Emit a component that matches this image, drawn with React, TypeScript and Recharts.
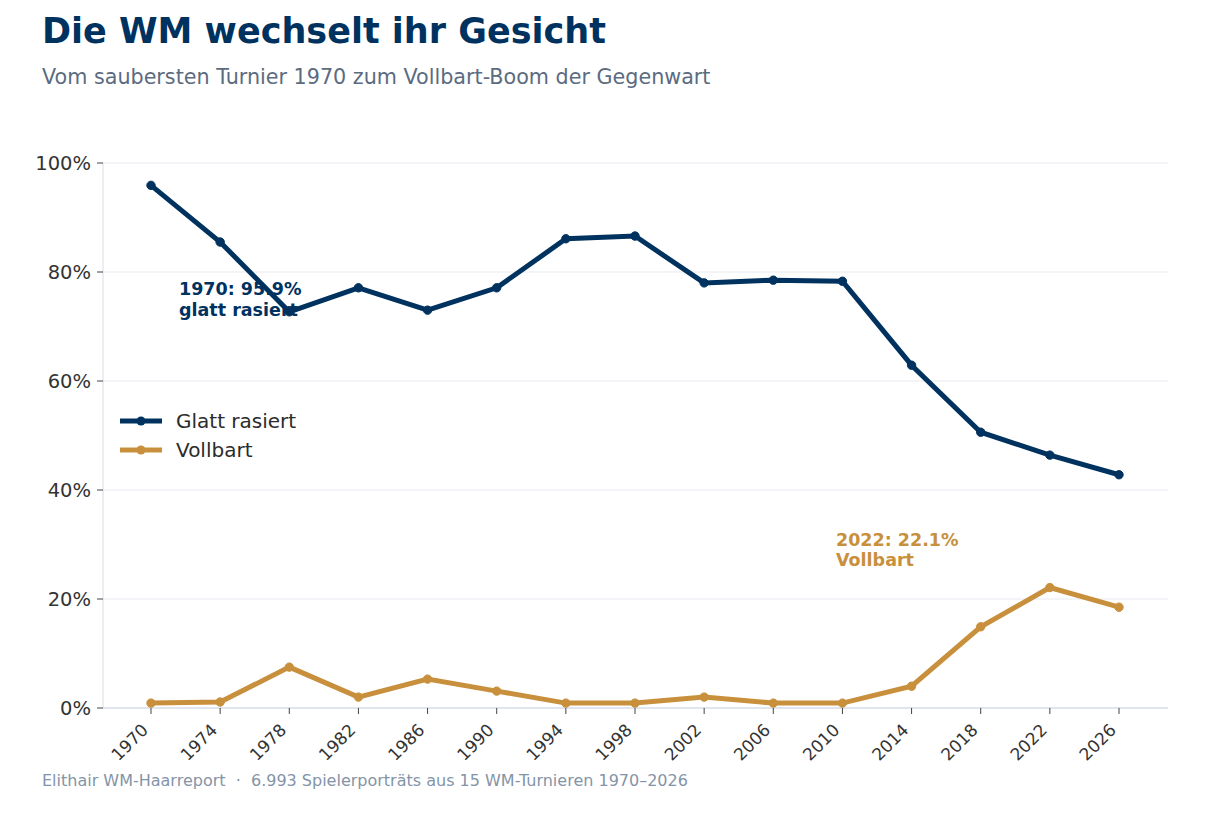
import React from 'react'
import { LineChart, Line, XAxis, YAxis, CartesianGrid } from 'recharts'

const years = ['1970', '1974', '1978', '1982', '1986', '1990', '1994', '1998', '2002', '2006', '2010', '2014', '2018', '2022', '2026']
const glattRasiert = [95.9, 85.5, 72.7, 77.1, 73.0, 77.1, 86.1, 86.6, 78.0, 78.5, 78.3, 62.9, 50.6, 46.4, 42.8]
const vollbart = [0.9, 1.1, 7.5, 2.0, 5.3, 3.1, 0.9, 0.9, 2.0, 0.9, 0.9, 4.0, 14.9, 22.1, 18.5]
const yTicks = [0, 20, 40, 60, 80, 100]

const NAVY = '#00325f'
const GOLD = '#c8903c'
const FONT = '"DejaVu Sans", sans-serif'

const data = years.map((year, i) => ({ year, glatt: glattRasiert[i], voll: vollbart[i] }))

const legendItems = [
  { label: 'Glatt rasiert', color: NAVY },
  { label: 'Vollbart', color: GOLD },
]

// rotated year labels, end of text sits just below the tick
function YearTick({ x, y, payload }: any) {
  const tx = x - 6
  const ty = y + 13
  return (
    <text
      x={tx}
      y={ty}
      dy="0.35em"
      textAnchor="end"
      transform={`rotate(-45, ${tx}, ${ty})`}
      fill="#333"
      fontSize={17}
      fontFamily={FONT}
    >
      {payload.value}
    </text>
  )
}

function ChartLegend() {
  return (
    <div style={{ position: 'absolute', left: 119, top: 406, fontFamily: FONT }}>
      {legendItems.map((item) => (
        <div key={item.label} style={{ display: 'flex', alignItems: 'center', height: 29 }}>
          <svg width={44} height={12} style={{ marginRight: 13 }}>
            <line x1={1} y1={6} x2={43} y2={6} stroke={item.color} strokeWidth={5} />
            <circle cx={22} cy={6} r={4.5} fill={item.color} />
          </svg>
          <span style={{ fontSize: 20, color: '#2b2b2b' }}>{item.label}</span>
        </div>
      ))}
    </div>
  )
}

export default function App() {
  return (
    <div style={{ position: 'absolute', left: 0, top: 0, width: 1210, height: 814, background: '#fff', fontFamily: FONT }}>
      <LineChart
        width={1210}
        height={814}
        data={data}
        margin={{ top: 163, right: 42, bottom: 46, left: 0 }}
      >
        <CartesianGrid vertical={false} stroke="#eef1f5" strokeWidth={1.5} />
        <XAxis
          dataKey="year"
          height={60}
          padding={{ left: 48, right: 49 }}
          interval={0}
          stroke="#cdd5e5"
          tickLine={{ stroke: '#444' }}
          tickSize={6}
          tickMargin={0}
          tick={<YearTick />}
        />
        <YAxis
          width={103}
          domain={[0, 100]}
          ticks={yTicks}
          tickFormatter={(v) => `${v}%`}
          stroke="#d8dde6"
          tickLine={{ stroke: '#444' }}
          tickSize={6}
          tickMargin={6}
          tick={{ fill: '#333', fontSize: 19.5, fontFamily: FONT }}
        />
        <Line
          dataKey="glatt"
          name="Glatt rasiert"
          stroke={NAVY}
          strokeWidth={5}
          dot={{ r: 4.2, fill: NAVY, stroke: NAVY, strokeWidth: 1 }}
          activeDot={false}
          isAnimationActive={false}
        />
        <Line
          dataKey="voll"
          name="Vollbart"
          stroke={GOLD}
          strokeWidth={5}
          dot={{ r: 4.2, fill: GOLD, stroke: GOLD, strokeWidth: 1 }}
          activeDot={false}
          isAnimationActive={false}
        />
      </LineChart>

      <ChartLegend />
      <div style={{ position: 'absolute', left: 42, top: 11, fontSize: 35, fontWeight: 'bold', color: NAVY }}>
        Die WM wechselt ihr Gesicht
      </div>
      <div style={{ position: 'absolute', left: 42, top: 65, fontSize: 20.7, color: '#5b6b80' }}>
        Vom saubersten Turnier 1970 zum Vollbart-Boom der Gegenwart
      </div>
      <div style={{ position: 'absolute', left: 179, top: 279, fontSize: 17.5, fontWeight: 'bold', color: NAVY, lineHeight: '21px' }}>
        1970: 95.9%<br />glatt rasiert
      </div>
      <div style={{ position: 'absolute', left: 836, top: 530, fontSize: 17.5, fontWeight: 'bold', color: GOLD, lineHeight: '20px' }}>
        2022: 22.1%<br />Vollbart
      </div>
      <div style={{ position: 'absolute', left: 42, top: 771, fontSize: 16, color: '#8494a8' }}>
        Elithair WM-Haarreport &nbsp;·&nbsp; 6.993 Spielerporträts aus 15 WM-Turnieren 1970–2026
      </div>
    </div>
  )
}
